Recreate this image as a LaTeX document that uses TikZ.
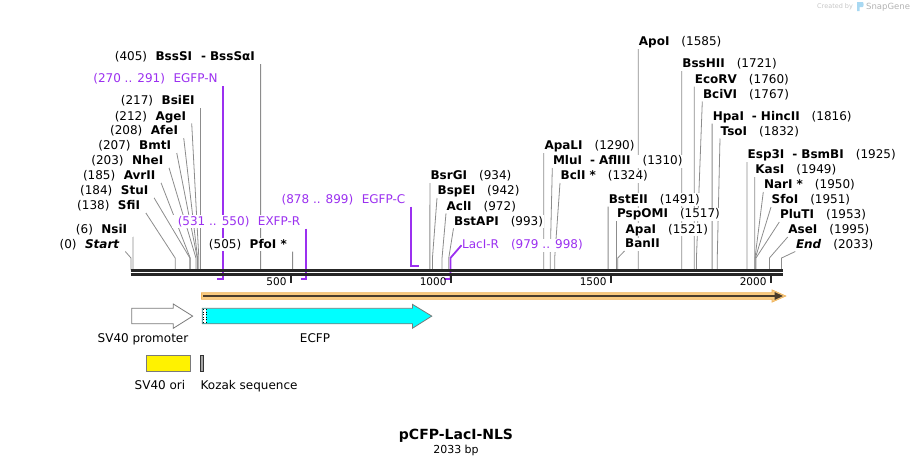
\documentclass[tikz,border=0pt]{standalone}
\usepackage{fontspec}
\setmainfont{DejaVu Sans}
\usetikzlibrary{positioning,backgrounds}

\definecolor{cutgray}{HTML}{8C8C8C}
\definecolor{primer}{RGB}{155,48,240}
\definecolor{bbone}{HTML}{262626}
\definecolor{glow}{HTML}{FACB80}
\definecolor{glowedge}{HTML}{EEB45E}
\definecolor{cdsline}{HTML}{4A3C2C}
\definecolor{ecfp}{HTML}{00FFFF}
\definecolor{featedge}{HTML}{7A7A7A}
\definecolor{snapblue}{HTML}{A8D8F2}

\newcommand\sitefont{\fontsize{12}{14}\selectfont}

\tikzset{
  cut/.style={draw=cutgray, line width=0.8pt},
  primerline/.style={draw=primer, line width=1.8pt},
  lsite/.style={anchor=south east, fill=white, inner xsep=5.5pt, inner ysep=1pt, text depth=2pt, font=\sitefont},
  rsite/.style={anchor=south west, fill=white, inner xsep=0.5pt, inner ysep=1pt, text depth=2pt, font=\sitefont},
  flabel/.style={inner sep=0pt, text depth=0pt, font=\fontsize{12}{14}\selectfont},
  ticklabel/.style={anchor=east, inner sep=0pt, font=\fontsize{10.5}{12}\selectfont},
}

\begin{document}
\begin{tikzpicture}[x=1pt,y=-1pt]
\useasboundingbox (0,0) rectangle (914,466);

% cut sites on the backbone
\foreach \bp in {0,6,138,184,185,203,207,208,212,217,405,505,934,942,972,993,1290,1310,1324,1491,1517,1521,1585,1721,1760,1767,1816,1832,1925,1949,1950,1951,1953,1995,2033}
  \coordinate (s\bp) at ({131+0.32*\bp},270);

% left labels
\node[lsite] (bsssi) at (260.6,64) {(405)\hspace{8.5pt}\textbf{BssSI\hspace{9pt}-\hspace{4pt}BssSαI}};
\node[lsite,text=primer] (egfpn) at (223.3,86) {(270 .. 291)\hspace{8.5pt}EGFP-N};
\node[lsite] (bsiei) at (200.4,108) {(217)\hspace{8.5pt}\textbf{BsiEI}};
\node[lsite] (agei) at (191.7,123.3) {(212)\hspace{8.5pt}\textbf{AgeI}};
\node[lsite] (afei) at (183.7,137.8) {(208)\hspace{8.5pt}\textbf{AfeI}};
\node[lsite] (bmti) at (176.7,152.7) {(207)\hspace{8.5pt}\textbf{BmtI}};
\node[lsite] (nhei) at (169,167.7) {(203)\hspace{8.5pt}\textbf{NheI}};
\node[lsite] (avrii) at (161,182.7) {(185)\hspace{8.5pt}\textbf{AvrII}};
\node[lsite] (stui) at (154,197.7) {(184)\hspace{8.5pt}\textbf{StuI}};
\node[lsite] (sfii) at (145.7,212.7) {(138)\hspace{8.5pt}\textbf{SfiI}};
\node[lsite,text=primer] (exfpr) at (306,228.5) {(531 .. 550)\hspace{8.5pt}EXFP-R};
\node[lsite] (nsii) at (132.9,236.7) {(6)\hspace{8.5pt}\textbf{NsiI}};
\node[lsite] (startpos) at (125.3,251.5) {(0)\hspace{8.5pt}\textbf{\textit{Start}}};
\node[lsite] (pfoi) at (292.6,251.5) {(505)\hspace{8.5pt}\textbf{PfoI *}};
\node[lsite,text=primer] (egfpc) at (411,206.5) {(878 .. 899)\hspace{8.5pt}EGFP-C};

% right labels
\node[rsite] (bsrgi) at (429.9,183) {\textbf{BsrGI}\hspace{12pt}(934)};
\node[rsite] (bspei) at (437,198) {\textbf{BspEI}\hspace{12pt}(942)};
\node[rsite] (acli) at (446,213.3) {\textbf{AclI}\hspace{12pt}(972)};
\node[rsite] (bstapi) at (453.5,228.3) {\textbf{BstAPI}\hspace{12pt}(993)};
\node[rsite,text=primer] (lacir) at (461.5,252) {LacI-R\hspace{12pt}(979 .. 998)};
\node[rsite] (apali) at (543.8,153) {\textbf{ApaLI}\hspace{12pt}(1290)};
\node[rsite] (mlui) at (552.3,168) {\textbf{MluI\hspace{8pt}-\hspace{4pt}AflIII}\hspace{12pt}(1310)};
\node[rsite] (bcli) at (560,183) {\textbf{BclI *}\hspace{12pt}(1324)};
\node[rsite] (bsteii) at (608.1,206.5) {\textbf{BstEII}\hspace{12pt}(1491)};
\node[rsite] (pspomi) at (616.4,221) {\textbf{PspOMI}\hspace{12pt}(1517)};
\node[rsite] (apai) at (625,236.5) {\textbf{ApaI}\hspace{12pt}(1521)};
\node[rsite] (banii) at (624.5,251) {\textbf{BanII}};
\node[rsite] (apoi) at (638.2,49) {\textbf{ApoI}\hspace{12pt}(1585)};
\node[rsite] (bsshii) at (681.7,71) {\textbf{BssHII}\hspace{12pt}(1721)};
\node[rsite] (ecorv) at (694.2,86.5) {\textbf{EcoRV}\hspace{12pt}(1760)};
\node[rsite] (bcivi) at (702.3,101.5) {\textbf{BciVI}\hspace{12pt}(1767)};
\node[rsite] (hpai) at (712.1,123.5) {\textbf{HpaI\hspace{8pt}-\hspace{4pt}HincII}\hspace{12pt}(1816)};
\node[rsite] (tsoi) at (720,138.5) {\textbf{TsoI}\hspace{12pt}(1832)};
\node[rsite] (esp3i) at (747,162) {\textbf{Esp3I\hspace{8pt}-\hspace{4pt}BsmBI}\hspace{12pt}(1925)};
\node[rsite] (kasi) at (754.7,177) {\textbf{KasI}\hspace{12pt}(1949)};
\node[rsite] (nari) at (763.3,192) {\textbf{NarI *}\hspace{12pt}(1950)};
\node[rsite] (sfoi) at (771,207) {\textbf{SfoI}\hspace{12pt}(1951)};
\node[rsite] (pluti) at (779.3,222) {\textbf{PluTI}\hspace{12pt}(1953)};
\node[rsite] (asei) at (787.7,237) {\textbf{AseI}\hspace{12pt}(1995)};
\node[rsite] (endpos) at (795.3,251.5) {\textbf{\textit{End}}\hspace{12pt}(2033)};

\begin{scope}[on background layer]
% connectors
\draw[cut] (bsssi.south east) -- (s405);
\draw[cut] (bsiei.south east) -- (s217);
\draw[cut] (agei.south east) -- ([yshift=12pt]s212) -- (s212);
\draw[cut] (afei.south east) -- ([yshift=12pt]s208) -- (s208);
\draw[cut] (bmti.south east) -- ([yshift=12pt]s207) -- (s207);
\draw[cut] (nhei.south east) -- ([yshift=12pt]s203) -- (s203);
\draw[cut] (avrii.south east) -- ([yshift=12pt]s185) -- (s185);
\draw[cut] (stui.south east) -- ([yshift=12pt]s184) -- (s184);
\draw[cut] (sfii.south east) -- ([yshift=12pt]s138) -- (s138);
\draw[cut] (nsii.south east) -- (s6);
\draw[cut] (startpos.south east) -- ([yshift=12pt]s0) -- (s0);
\draw[cut] (pfoi.south east) -- (s505);
\draw[cut] (bsrgi.south west) -- (s934);
\draw[cut] (bspei.south west) -- ([yshift=12pt]s942) -- (s942);
\draw[cut] (acli.south west) -- ([yshift=12pt]s972) -- (s972);
\draw[cut] (bstapi.south west) -- ([yshift=12pt]s993) -- (s993);
\draw[cut] (apali.south west) -- (s1290);
\draw[cut] (mlui.south west) -- ([yshift=12pt]s1310) -- (s1310);
\draw[cut] (bcli.south west) -- ([yshift=12pt]s1324) -- (s1324);
\draw[cut] (bsteii.south west) -- (s1491);
\draw[cut] (pspomi.south west) -- (s1517);
\draw[cut] (banii.south west) -- ([yshift=12pt]s1521) -- (s1521);
\draw[cut] (apoi.south west) -- (s1585);
\draw[cut] (bsshii.south west) -- (s1721);
\draw[cut] (ecorv.south west) -- (s1760);
\draw[cut] (bcivi.south west) -- ([yshift=12pt]s1767) -- (s1767);
\draw[cut] (hpai.south west) -- (s1816);
\draw[cut] (tsoi.south west) -- ([yshift=12pt]s1832) -- (s1832);
\draw[cut] (esp3i.south west) -- (s1925);
\draw[cut] (kasi.south west) -- (s1949);
\draw[cut] (nari.south west) -- ([yshift=12pt]s1950) -- (s1950);
\draw[cut] (sfoi.south west) -- ([yshift=12pt]s1951) -- (s1951);
\draw[cut] (pluti.south west) -- ([yshift=12pt]s1953) -- (s1953);
\draw[cut] (asei.south west) -- ([yshift=12pt]s1995) -- (s1995);
\draw[cut] (endpos.south west) -- ([yshift=12pt]s2033) -- (s2033);

% primers
\coordinate (p270) at (217.4,279);
\coordinate (p291) at (223.3,279);
\coordinate (p531) at (300.5,279);
\coordinate (p550) at (306,279);
\coordinate (p878) at (411,266);
\coordinate (p899) at (418.5,266);
\coordinate (p979) at (444.3,279);
\coordinate (p998) at (450.4,279);
\draw[primerline] (egfpn.south east) -- (p291) -- (p270);
\draw[primerline] (exfpr.south east) -- (p550) -- (p531);
\draw[primerline] (egfpc.south east) -- (p878) -- (p899);
\draw[primerline] (lacir.west) -- ([yshift=21pt]p998) -- (p998) -- (p979);

% backbone and ruler
\draw[bbone, line width=2.6pt] (130.5,270.3) -- (783.3,270.3);
\draw[bbone, line width=2.6pt] (130.5,274.6) -- (783.3,274.6);
\foreach \x in {291,451,611,771}
  \draw[bbone, line width=2pt] (\x,275.5) -- (\x,283);
\end{scope}

\foreach \t/\x in {500/291,1000/451,1500/611,2000/771}
  \node[ticklabel] (tick\t) at (\x-4.3,282) {\t};

% features
\filldraw[fill=glow, draw=glowedge, line width=0.6pt] (201.5,292.7) -- (772,292.7) -- (772,289.8) -- (786,296) -- (772,302.2) -- (772,299.3) -- (201.5,299.3) -- cycle;
\draw[cdsline, line width=2pt] (203,296) -- (776,296);
\fill[cdsline] (774.5,292) -- (783,296) -- (774.5,300) -- cycle;

\filldraw[fill=white, draw=featedge, line width=0.8pt] (131.7,308.3) -- (173.3,308.3) -- (173.3,304) -- (192.7,316.1) -- (173.3,328.3) -- (173.3,323.8) -- (131.7,323.8) -- cycle;
\filldraw[fill=ecfp, draw=featedge, line width=0.8pt] (202.3,308.3) -- (412.4,308.3) -- (412.4,304.3) -- (431.8,316.1) -- (412.4,328.3) -- (412.4,323.8) -- (202.3,323.8) -- cycle;
\fill[white] (203.2,309) rectangle (206.3,323.1);
\draw[black, dotted, line width=0.6pt] (203.6,309) -- (203.6,323.1);
\draw[black, dotted, line width=0.6pt] (205.9,309) -- (205.9,323.1);

\filldraw[fill=yellow, draw=featedge, line width=0.8pt] (146,355.3) rectangle (190.7,371);
\filldraw[fill=gray!70, draw=gray!40!black, line width=0.6pt] (200.2,355.3) rectangle (203.2,371);

\node[flabel, anchor=east] (sv40p) at (188.5,338) {SV40 promoter};
\node[flabel] (ecfplabel) at (315,338) {ECFP};
\node[flabel] (sv40ori) at (160,385) {SV40 ori};
\node[flabel, anchor=west] (kozak) at (200.5,385) {Kozak sequence};

% title
\node[font=\fontsize{14}{16}\selectfont\bfseries] (title) at (456,436) {pCFP-LacI-NLS};
\node[font=\fontsize{11}{13}\selectfont] (bplen) at (456,450.5) {2033 bp};

% watermark
\node[anchor=west, inner sep=0pt, text=gray!45, font=\fontsize{6.5}{7}\selectfont] (createdby) at (817,6.7) {Created by};
\fill[snapblue] (857,2) -- (862.5,2) .. controls (864,2) and (864,7) .. (862.5,7) -- (859.5,7) -- (859.5,11) -- (857,11) -- cycle;
\node[anchor=west, inner sep=0pt, text=gray!60, font=\fontsize{8.5}{9}\selectfont] (snapgene) at (866,7) {SnapGene};
\end{tikzpicture}
\end{document}
